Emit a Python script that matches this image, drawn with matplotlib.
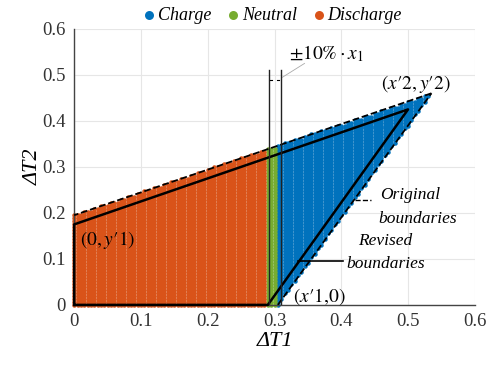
import numpy as np
import matplotlib
matplotlib.use("Agg")
import matplotlib.pyplot as plt
from matplotlib.path import Path

# boundary vertices
orig_x = [0.0, 0.305, 0.535, 0.0]
orig_y = [0.0, 0.0, 0.46, 0.195]
rev_x = [0.0, 0.29, 0.50, 0.0, 0.0]
rev_y = [0.0, 0.0, 0.425, 0.175, 0.0]
band_lo, band_hi = 0.29, 0.305      # neutral band on dT1
band_lines = [0.292, 0.31]
band_top = 0.51
step_x, step_y = 0.005, 0.0065

colors = {"Charge": "#0072BD", "Neutral": "#77AC30", "Discharge": "#D95319"}

plt.rcParams['font.family'] = ['Liberation Serif', 'DejaVu Serif']
plt.rcParams['mathtext.fontset'] = 'stix'

fig = plt.figure(figsize=(4.88, 3.66), dpi=100)
ax = fig.add_axes([0.152, 0.167, 0.821, 0.754])

# sampled operating points inside the original boundaries
gx, gy = np.meshgrid(np.arange(0, 0.6, step_x), np.arange(0, 0.6, step_y))
gx, gy = gx.ravel(), gy.ravel()
poly = Path(np.column_stack([orig_x, orig_y]))
inside = poly.contains_points(np.column_stack([gx, gy]), radius=1e-6)
px, py = gx[inside], gy[inside]

masks = {
    "Charge": px >= band_hi,
    "Neutral": (px >= band_lo) & (px < band_hi),
    "Discharge": px < band_lo,
}
for name in ["Charge", "Neutral", "Discharge"]:
    m = masks[name]
    ax.scatter(px[m], py[m], s=10.5, color=colors[name], linewidths=0,
               label=name, clip_on=False, zorder=2)

# original (dashed) and revised (solid) boundaries
ax.plot(orig_x[2:] + [orig_x[3]], orig_y[2:] + [orig_y[3]], 'k--', lw=1.3, zorder=3)
ax.plot([orig_x[1], orig_x[2]], [orig_y[1], orig_y[2]], 'k--', lw=1.3, zorder=3)
ax.plot(rev_x, rev_y, 'k-', lw=1.8, zorder=4, clip_on=False)
for bx in band_lines:
    ax.plot([bx, bx], [0, band_top], color='#222222', lw=1.0, zorder=4)
ax.plot([0.294, 0.297], [0.49, 0.49], color='k', lw=0.8, zorder=4)
ax.plot([0.303, 0.306], [0.49, 0.49], color='k', lw=0.8, zorder=4)

ax.set_xlim(0, 0.6)
ax.set_ylim(0, 0.6)
ax.set_xticks(np.arange(0, 0.61, 0.1))
ax.set_yticks(np.arange(0, 0.61, 0.1))
ax.set_xticklabels(["0", "0.1", "0.2", "0.3", "0.4", "0.5", "0.6"])
ax.set_yticklabels(["0", "0.1", "0.2", "0.3", "0.4", "0.5", "0.6"])
ax.tick_params(labelsize=13.5, length=0, colors='#333333', pad=6)
ax.grid(True, color='#e6e6e6', lw=0.8)
ax.set_axisbelow(True)
for s in ['top', 'right']:
    ax.spines[s].set_visible(False)
for s in ['left', 'bottom']:
    ax.spines[s].set_color('#444444')
    ax.spines[s].set_linewidth(1.0)

ax.set_xlabel("ΔT1", fontsize=16, style='italic', labelpad=1)
ax.set_ylabel("ΔT2", fontsize=16, style='italic', labelpad=0)

# annotations
ax.text(0.322, 0.535, r"$\pm10\%\cdot x_1$", fontsize=14)
ax.plot([0.312, 0.345], [0.495, 0.525], color='#aaaaaa', lw=0.6)
ax.text(0.46, 0.47, "$(x′2,y′2)$", fontsize=14)
ax.text(0.008, 0.13, "$(0,y′1)$", fontsize=14)
ax.text(0.328, 0.008, "$(x′1{,}0)$", fontsize=14)
ax.text(0.458, 0.23, "Original", fontsize=12.5, style='italic', ha='left')
ax.text(0.455, 0.178, "boundaries", fontsize=12.5, style='italic', ha='left')
ax.plot([0.42, 0.445], [0.227, 0.227], 'k--', lw=1.0)
ax.text(0.425, 0.13, "Revised", fontsize=12.5, style='italic', ha='left')
ax.text(0.408, 0.08, "boundaries", fontsize=12.5, style='italic', ha='left')
ax.plot([0.335, 0.403], [0.095, 0.095], 'k-', lw=1.2)

leg = fig.legend(loc='upper center', bbox_to_anchor=(0.555, 1.025), ncol=3,
                 frameon=False, handletextpad=0.0,
                 columnspacing=0.7, markerscale=2.0, handlelength=1.0,
                 prop={'style': 'italic', 'size': 13})

fig.savefig("out.png", dpi=100)
